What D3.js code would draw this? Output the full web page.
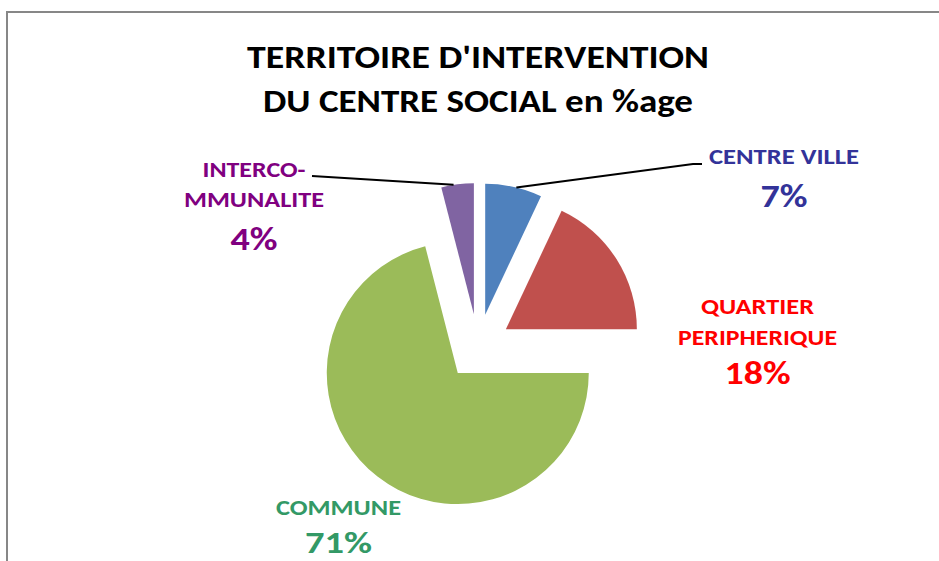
<!DOCTYPE html>
<html>
<head>
<meta charset="utf-8">
<script src="https://cdn.jsdelivr.net/npm/d3@7"></script>
<style>
  body { margin: 0; background: #fff; }
  text { font-family: Carlito, Lato, "Open Sans", sans-serif; font-weight: bold; }
</style>
</head>
<body>
<div id="chart"></div>
<script>
const titleLines = ["TERRITOIRE D'INTERVENTION", "DU CENTRE SOCIAL en %age"];
const categories = ["CENTRE VILLE", "QUARTIER PERIPHERIQUE", "COMMUNE", "INTERCOMMUNALITE"];
const labelLines = [["CENTRE VILLE"], ["QUARTIER", "PERIPHERIQUE"], ["COMMUNE"], ["INTERCO-", "MMUNALITE"]];
const values = [7, 18, 71, 4];

function createPieChart() {
    var width = 939;
    var height = 561;
    var cx = 478, cy = 347;
    var radius = 131;
    var explode = 33;

    var sliceColor = d3.scaleOrdinal()
        .domain(categories)
        .range(["#4F81BD", "#C0504D", "#9BBB59", "#8064A2"]);
    var labelColor = d3.scaleOrdinal()
        .domain(categories)
        .range(["#333399", "#FF0000", "#339966", "#800080"]);

    // label placement: center x, baselines and widths of each line, then the % line
    var labelLayout = [
        {x: 784, lines: [[164, 150]], pct: [207, 47], leader: [[693, 164], [702, 164]]},
        {x: 757.5, lines: [[314, 113], [345, 159]], pct: [384, 66]},
        {x: 338.5, lines: [[515, 125]], pct: [553, 67]},
        {x: 254, lines: [[177, 103], [207, 140]], pct: [250, 47], leader: [[312, 176]]}
    ];

    var svg = d3.select("#chart")
        .append("svg")
            .attr("viewBox", [0, 0, width, height])
            .attr("width", width)
            .attr("height", height);

    // chart area border (runs off the right and bottom edges)
    svg.append("rect")
        .attr("x", 7)
        .attr("y", 12)
        .attr("width", 1000)
        .attr("height", 600)
        .attr("fill", "none")
        .attr("stroke", "#878787")
        .attr("stroke-width", 2);

    svg.append("g")
        .selectAll("text")
        .data(titleLines)
        .join("text")
            .attr("x", cx)
            .attr("y", (d, i) => 68 + i * 44)
            .attr("text-anchor", "middle")
            .attr("font-size", 32)
            .attr("textLength", (d, i) => [462, 430][i])
            .attr("lengthAdjust", "spacingAndGlyphs")
            .attr("fill", "#000")
            .text(d => d);

    var pie = d3.pie().sort(null).value(d => d);
    var arcs = pie(values);
    var arc = d3.arc().innerRadius(0).outerRadius(radius);

    function offset(d) {
        var a = (d.startAngle + d.endAngle) / 2;
        return [Math.sin(a) * explode, -Math.cos(a) * explode];
    }

    svg.append("g")
        .attr("transform", `translate(${cx},${cy})`)
        .selectAll("path")
        .data(arcs)
        .join("path")
            .attr("transform", d => `translate(${offset(d)})`)
            .attr("fill", (d, i) => sliceColor(categories[i]))
            .attr("d", arc);

    // leader lines from the slice's outer edge to the label
    arcs.forEach((d, i) => {
        var lay = labelLayout[i];
        if (!lay.leader) return;
        var a = (d.startAngle + d.endAngle) / 2 + (i === 0 ? 0.02 : -0.03);
        var o = offset(d);
        var start = [cx + o[0] + Math.sin(a) * radius, cy + o[1] - Math.cos(a) * radius];
        svg.append("path")
            .attr("fill", "none")
            .attr("stroke", "#000")
            .attr("stroke-width", 2)
            .attr("d", d3.line()([start].concat(lay.leader)));
    });

    var labels = svg.append("g")
        .selectAll("g")
        .data(arcs)
        .join("g")
            .attr("fill", (d, i) => labelColor(categories[i]));

    labels.each(function(d, i) {
        var g = d3.select(this);
        var lay = labelLayout[i];
        labelLines[i].forEach((t, j) => {
            g.append("text")
                .attr("x", lay.x)
                .attr("y", lay.lines[j][0])
                .attr("text-anchor", "middle")
                .attr("font-size", 22)
                .attr("textLength", lay.lines[j][1])
                .attr("lengthAdjust", "spacingAndGlyphs")
                .text(t);
        });
        g.append("text")
            .attr("x", lay.x)
            .attr("y", lay.pct[0])
            .attr("text-anchor", "middle")
            .attr("font-size", i === 2 ? 30 : 32)
            .attr("textLength", lay.pct[1])
            .attr("lengthAdjust", "spacingAndGlyphs")
            .text(values[i] + "%");
    });
}

createPieChart();
</script>
</body>
</html>
